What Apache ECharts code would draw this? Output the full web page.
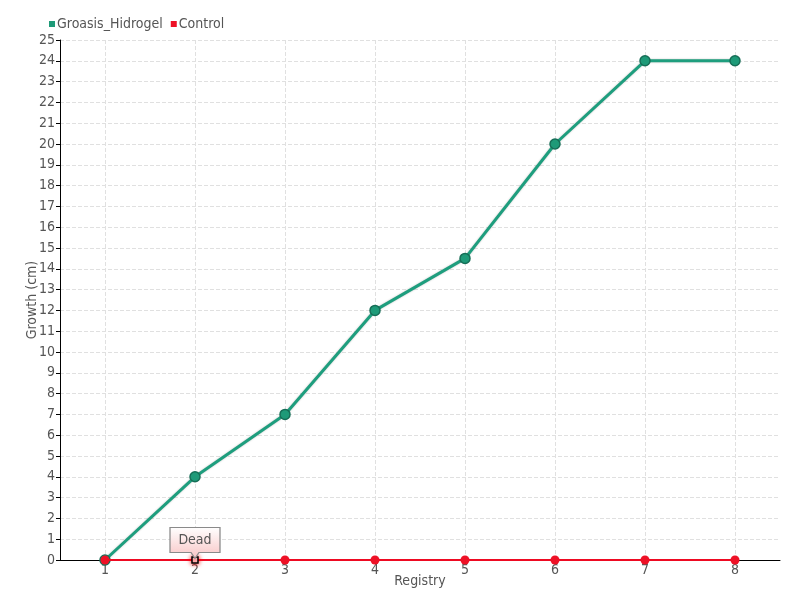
<!DOCTYPE html>
<html>
<head>
<meta charset="utf-8">
<script src="https://cdn.jsdelivr.net/npm/echarts@6/dist/echarts.min.js"></script>
<style>html,body{margin:0;padding:0;background:#fff}#c{width:800px;height:600px}</style>
</head>
<body>
<div id="c"></div>
<script>
var categories = ['1','2','3','4','5','6','7','8'];
var groasis = [0, 4, 7, 12, 14.5, 20, 24, 24];
var control = [0, 0, 0, 0, 0, 0, 0, 0];
var deadIndex = 1;
var deadLabel = 'Dead';
var seriesNames = ['Groasis_Hidrogel', 'Control'];
var xName = 'Registry';
var yName = 'Growth (cm)';

var FONT = "'DejaVu Sans Condensed', 'Liberation Sans Narrow', sans-serif";
var TXT = '#555';

var controlData = control.map(function (v, i) {
  if (i === deadIndex) {
    return {
      value: v,
      symbol: 'rect',
      symbolSize: 6,
      itemStyle: { color: '#fff', borderColor: '#000', borderWidth: 1.5, shadowColor: '#ff0000', shadowBlur: 5 }
    };
  }
  return v;
});

var chart = echarts.init(document.getElementById('c'), null, { renderer: 'canvas' });
chart.setOption({
  animation: false,
  textStyle: { fontFamily: FONT, color: TXT },
  legend: {
    left: 44, top: 12,
    icon: 'rect', itemWidth: 6, itemHeight: 6, itemGap: 8,
    itemStyle: { borderWidth: 0 },
    textStyle: { fontFamily: FONT, fontSize: 14, color: TXT, padding: [0, 0, 0, -3] },
    data: seriesNames
  },
  grid: { left: 60, right: 20, top: 40, bottom: 40, containLabel: false },
  xAxis: {
    type: 'category',
    data: categories,
    boundaryGap: true,
    name: xName, nameLocation: 'middle', nameGap: 14, nameMoveOverlap: false,
    nameTextStyle: { fontFamily: FONT, fontSize: 14, color: TXT },
    axisLine: { lineStyle: { color: '#000', width: 1 } },
    axisTick: { show: false, alignWithLabel: true },
    axisLabel: { margin: 3, fontFamily: FONT, fontSize: 14, color: TXT },
    splitLine: { show: true, interval: 0, alignWithLabel: true, lineStyle: { type: 'dashed', color: '#e0e0e0' } }
  },
  yAxis: {
    type: 'value',
    min: 0, max: 25, interval: 1,
    name: yName, nameLocation: 'middle', nameGap: 21, nameMoveOverlap: false,
    nameTextStyle: { fontFamily: FONT, fontSize: 14, color: TXT },
    axisLine: { show: true, lineStyle: { color: '#000', width: 1 } },
    axisTick: { show: true, length: 4, lineStyle: { color: '#000' } },
    axisLabel: { margin: 5, fontFamily: FONT, fontSize: 14, color: TXT },
    splitLine: { show: true, lineStyle: { type: 'dashed', color: '#e0e0e0' } }
  },
  series: [
    {
      name: seriesNames[0],
      type: 'line',
      data: groasis,
      symbol: 'circle', symbolSize: 10,
      lineStyle: { color: '#1e9e7e', width: 3, shadowColor: 'rgba(0,0,0,0.25)', shadowBlur: 2 },
      itemStyle: { color: '#1e9a78', borderColor: '#176e57', borderWidth: 1.5 },
      z: 2
    },
    {
      name: seriesNames[1],
      type: 'line',
      data: controlData,
      symbol: 'circle', symbolSize: 9,
      lineStyle: { color: '#ee0a22', width: 2 },
      itemStyle: { color: '#ee1126', borderWidth: 0 },
      markPoint: {
        silent: true,
        symbol: 'path://M0,0 L50,0 L50,25 L29,25 L25,31 L21,25 L0,25 Z',
        symbolSize: [50, 31],
        symbolKeepAspect: false,
        symbolOffset: [0, -17],
        itemStyle: {
          color: new echarts.graphic.LinearGradient(0, 0, 0, 1, [
            { offset: 0, color: '#ffffff' },
            { offset: 1, color: '#f8c4c4' }
          ]),
          borderColor: '#8a8a8a', borderWidth: 1
        },
        label: {
          show: true, position: 'inside', offset: [0, -3],
          formatter: deadLabel,
          fontFamily: FONT, fontSize: 14, color: '#555'
        },
        data: [{ coord: [deadIndex, control[deadIndex]] }]
      },
      z: 3
    }
  ]
});
</script>
</body>
</html>
